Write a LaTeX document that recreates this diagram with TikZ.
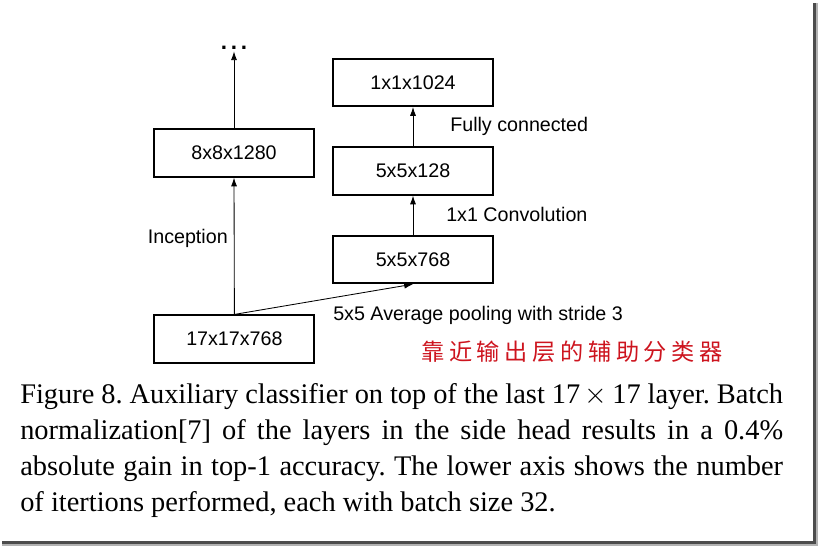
\documentclass[tikz,border=0pt]{standalone}
\usepackage{fontspec}
\setmainfont{Liberation Serif}
\setsansfont{Liberation Sans}
\newfontfamily\cjkhand[LetterSpace=20]{Noto Sans CJK SC}
\usepackage{tikz}
\usetikzlibrary{positioning,arrows.meta,calc}
\definecolor{notered}{RGB}{205,20,30}
\tikzset{
  flowarrow/.style={-{Latex[length=2.2mm,width=1.5mm]}, line width=0.6pt},
  layerbox/.style={draw, line width=1.4pt, fill=white, minimum width=4.0cm, minimum height=1.18cm, align=center, font=\sffamily\fontsize{14}{16}\selectfont},
  oplabel/.style={font=\sffamily\fontsize{14}{16}\selectfont, inner sep=0pt},
  note/.style={font=\cjkhand\fontsize{16.5}{18}\selectfont, text=notered, inner sep=0pt},
  caption/.style={font=\frenchspacing\fontsize{20.2}{25.6}\selectfont, text width=19.07cm, align=justify, inner sep=0pt}
}
\begin{document}
\begin{tikzpicture}[>=Latex]
      \useasboundingbox (0,0) rectangle (20.45,13.65);
      % main branch
      \node[layerbox] (l17) at (5.86,5.175) {17x17x768};
      \node[layerbox] (l8) at (5.85,9.825) {8x8x1280};
      \node[font=\sffamily\bfseries\fontsize{16}{16}\selectfont, inner sep=1pt] (more) at (5.85,12.45) {.\,.\,.};
      % side head
      \node[layerbox] (p768) at (10.325,7.16) {5x5x768};
      \node[layerbox] (c128) at (10.325,9.375) {5x5x128};
      \node[layerbox] (fc) at (10.325,11.59) {1x1x1024};
      % operations
      \node[oplabel, anchor=east] (incep) at (5.7,7.7) {Inception};
      \node[oplabel, anchor=west] (pool) at (8.325,5.775) {5x5 Average pooling with stride 3};
      \node[oplabel, anchor=west] (conv) at (11.15,8.3) {1x1 Convolution};
      \node[oplabel, anchor=west] (full) at (11.25,10.48) {Fully connected};
      \draw[flowarrow] (l17.north) -- (l8.south);
      \draw[flowarrow] (l8.north) -- (more.south);
      \draw[flowarrow] (l17.north) -- (p768.south);
      \draw[flowarrow] (p768.north) -- (c128.south);
      \draw[flowarrow] (c128.north) -- (fc.south);
      % annotation and caption
      \node[note] (zh) at (14.3,4.85) {靠近输出层的辅助分类器};
      \node[caption, anchor=north west] (cap) at (0.5,4.08) {Figure 8. Auxiliary classifier on top of the last 17\,$\times$\,17 layer. Batch\linebreak normalization[7] of the layers in the side head results in a 0.4\%\linebreak absolute gain in top-1 accuracy. The lower axis shows the number\linebreak of itertions performed, each with batch size 32.};
      % frame shadow
      \draw[line width=0.08cm, black!70] (0.05,0.09) -- (20.36,0.09) -- (20.36,13.58);
      \draw[line width=0.05cm, black!30] (0.05,0.02) -- (20.43,0.02) -- (20.43,13.58);
    \end{tikzpicture}
\end{document}
